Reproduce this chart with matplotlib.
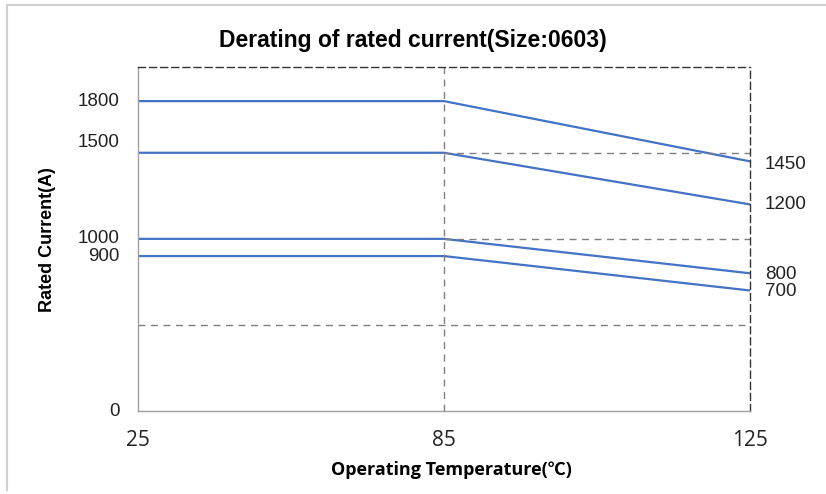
import matplotlib
matplotlib.use("Agg")
import matplotlib.pyplot as plt
import matplotlib.transforms as mtransforms
from matplotlib.lines import Line2D

temps = ["25", "85", "125"]
series = [
    [1800, 1800, 1450],
    [1500, 1500, 1200],
    [1000, 1000, 800],
    [900, 900, 700],
]
left_labels = [1800, 1500, 1000, 900, 0]
left_offsets = [0, 10, 0, 0, 0]  # px shift up, as in the original text boxes
right_labels = [1450, 1200, 800, 700]
right_offsets = [-3, 0, -1, -1]

blue = "#4472C4"
grid_c = "#7f7f7f"

fig = plt.figure(figsize=(8.26, 4.94), dpi=100)
ax = fig.add_axes([0.167, 0.168, 0.741, 0.697])

x = list(range(len(temps)))
for s in series:
    ax.plot(x, s, color=blue, lw=1.6, solid_capstyle="butt")

ax.set_xlim(0, 2)
ax.set_ylim(0, 2000)

# dashed reference lines
ax.axvline(1, color=grid_c, ls=(0, (5, 4)), lw=1)
ax.plot([0, 2], [500, 500], color=grid_c, ls=(0, (5, 4)), lw=1)
ax.plot([1, 2], [1500, 1500], color=grid_c, ls=(0, (5, 4)), lw=1)
ax.plot([1, 2], [1000, 1000], color=grid_c, ls=(0, (5, 4)), lw=1)

for side in ["top", "right"]:
    ax.spines[side].set_linestyle((0, (5, 3)))
    ax.spines[side].set_color("#333333")
    ax.spines[side].set_linewidth(1)
for side in ["left", "bottom"]:
    ax.spines[side].set_color("#a0a0a0")
    ax.spines[side].set_linewidth(1)

ax.set_xticks(x)
ax.set_xticklabels(temps, fontsize=15, family="Open Sans", color="#222222")
# first label sits a little right of the axis corner
shift = mtransforms.ScaledTranslation(6 / 100, 0, fig.dpi_scale_trans)
lab0 = ax.get_xticklabels()[0]
lab0.set_transform(lab0.get_transform() + shift)
ax.tick_params(axis="x", length=0, pad=14)
ax.set_yticks([])

for v, off in zip(left_labels, left_offsets):
    ax.annotate(str(v), xy=(0, v), xytext=(-18, off), textcoords="offset pixels",
                ha="right", va="center", fontsize=13.5, family="Liberation Sans", color="#222222")
for v, off in zip(right_labels, right_offsets):
    ax.annotate(str(v), xy=(2, v), xytext=(15, off), textcoords="offset pixels",
                ha="left", va="center", fontsize=13.5, family="Liberation Sans", color="#222222")

fig.text(0.5, 0.918, "Derating of rated current(Size:0603)", ha="center", va="center",
         fontsize=16.5, fontweight="bold", family=["Liberation Sans Narrow", "Liberation Sans"])
fig.text(0.547, 0.048, "Operating Temperature(℃)", ha="center", va="center",
         fontsize=13, fontweight="bold", family=["Open Sans", "Noto Sans CJK SC", "DejaVu Sans"])
fig.text(0.057, 0.515, "Rated Current(A)", ha="center", va="center", rotation=90,
         fontsize=13, fontweight="bold", family="Liberation Sans")

# light frame on the left and top edges
fig.add_artist(Line2D([0.008, 0.008], [0.008, 0.99], color="#d0d0d0", lw=1.5))
fig.add_artist(Line2D([0.008, 1.0], [0.99, 0.99], color="#d0d0d0", lw=1.5))

fig.savefig("out.png", dpi=100)
